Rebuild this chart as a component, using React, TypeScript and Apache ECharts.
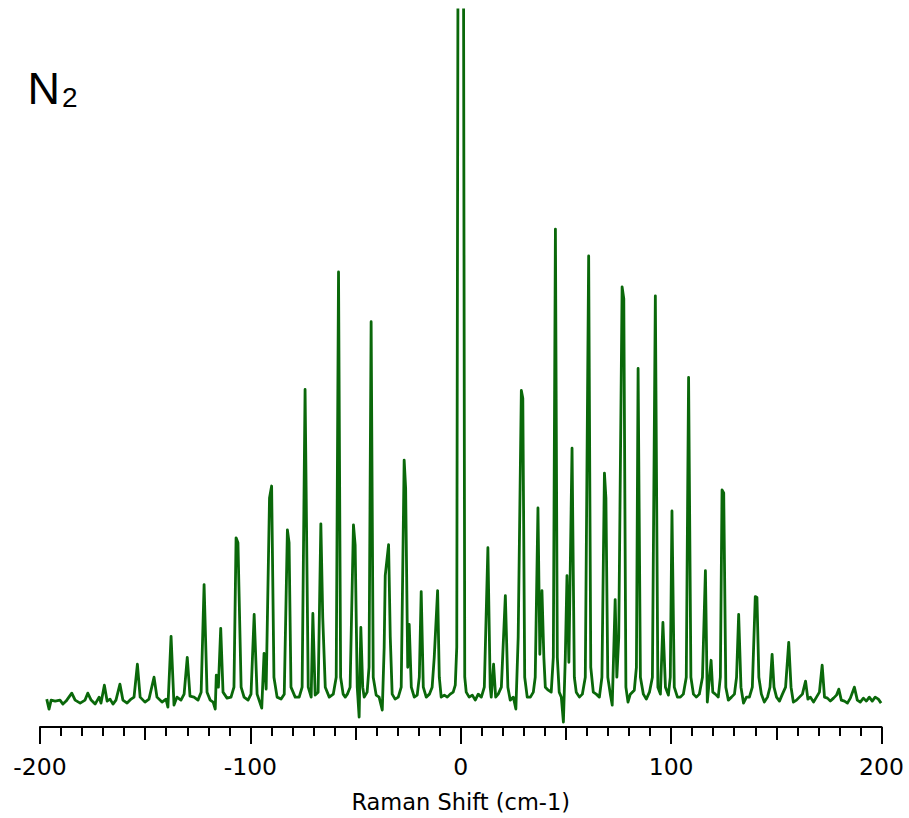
import React, { useEffect, useRef } from "react";
import * as echarts from "echarts";

// Raman shift (cm-1) vs intensity (arbitrary units)
const antiStokes: number[][] = [
  [-196.8, 28], [-195.7, 18], [-194.7, 27], [-192.8, 26], [-190.5, 27], [-189.1, 23], [-187.6, 26],
  [-184.9, 34], [-183.3, 27], [-180.9, 24], [-178.6, 27], [-177.3, 34], [-175.7, 27], [-173.8, 23],
  [-171.9, 30], [-171.0, 24], [-169.4, 42], [-168.1, 26], [-166.7, 28], [-165.3, 23], [-163.9, 27],
  [-162.0, 43], [-160.6, 27], [-158.6, 24], [-156.7, 28], [-155.3, 30], [-153.7, 63], [-152.4, 30],
  [-150.1, 25], [-148.2, 28], [-145.8, 50], [-144.4, 30], [-142.0, 25], [-140.1, 28], [-139.2, 20],
  [-137.7, 91], [-136.3, 22], [-134.9, 30], [-133.0, 27], [-131.5, 33], [-130.0, 70], [-128.7, 31],
  [-126.8, 30], [-124.9, 27], [-123.4, 35], [-122.0, 143], [-120.6, 35], [-119.1, 27], [-117.7, 25],
  [-116.7, 18], [-116.2, 52], [-115.2, 40], [-114.1, 99], [-113.0, 35], [-111.1, 29], [-109.2, 30],
  [-107.8, 40], [-106.8, 190], [-105.9, 185], [-104.4, 40], [-103.0, 30], [-101.1, 27], [-99.7, 33],
  [-98.2, 113], [-96.8, 33], [-94.6, 19], [-93.5, 74], [-92.5, 38], [-90.9, 230], [-89.9, 242],
  [-88.8, 50], [-87.3, 30], [-85.4, 28], [-83.9, 33], [-82.4, 198], [-81.6, 185], [-80.7, 40],
  [-78.7, 30], [-76.8, 30], [-75.4, 40], [-74.0, 339], [-72.5, 40], [-71.1, 30], [-70.3, 114],
  [-69.2, 32], [-67.8, 35], [-66.5, 204], [-65.6, 110], [-64.4, 40], [-62.5, 30], [-60.6, 33],
  [-59.2, 50], [-58.1, 457], [-57.1, 50], [-55.9, 33], [-54.9, 30], [-53.9, 33], [-52.6, 40],
  [-51.0, 203], [-50.2, 183], [-49.2, 40], [-48.3, 10], [-47.5, 100], [-46.6, 40], [-45.9, 30],
  [-44.5, 35], [-43.6, 60], [-42.6, 407], [-41.6, 50], [-40.2, 32], [-38.8, 30], [-37.3, 17],
  [-36.4, 80], [-35.9, 152], [-34.3, 183], [-33.5, 90], [-32.6, 33], [-31.2, 28], [-29.7, 30],
  [-28.3, 40], [-26.9, 268], [-26.2, 240], [-25.2, 60], [-24.5, 103], [-23.5, 40], [-22.1, 30],
  [-20.7, 32], [-19.7, 50], [-18.8, 136], [-17.8, 40], [-16.4, 30], [-14.9, 33], [-13.6, 40],
  [-12.6, 70], [-11.0, 137], [-10.2, 50], [-9.3, 30], [-7.8, 32], [-6.4, 30], [-5.0, 33],
  [-3.6, 35], [-2.6, 42],
];

const rayleigh: number[][] = [
  [-1.9, 80], [-1.2, 900], [0, 1400], [1.2, 900], [1.9, 50],
];

const stokes: number[][] = [
  [2.6, 35], [4.0, 30], [5.5, 32], [6.9, 27], [8.3, 33], [9.8, 30], [11.2, 40], [12.9, 180],
  [14.0, 40], [14.5, 30], [15.6, 63], [16.6, 30], [17.8, 33], [19.3, 40], [21.2, 132], [22.4, 40],
  [23.5, 27], [25.0, 30], [26.2, 18], [27.3, 90], [28.8, 338], [29.5, 330], [30.4, 50], [31.6, 30],
  [33.1, 30], [34.5, 35], [35.4, 50], [36.7, 220], [37.6, 73], [38.6, 137], [39.5, 70], [40.2, 40],
  [41.6, 37], [43.0, 35], [44.0, 70], [45.0, 500], [45.9, 70], [46.8, 35], [47.8, 30], [48.8, 5],
  [49.7, 70], [50.5, 152], [51.4, 65], [52.9, 280], [54.0, 50], [54.9, 35], [56.4, 30], [57.8, 33],
  [59.2, 50], [60.8, 473], [61.8, 60], [63.0, 35], [64.4, 33], [65.9, 30], [67.1, 50], [68.3, 255],
  [69.0, 230], [69.9, 50], [71.1, 33], [72.0, 22], [73.4, 128], [74.2, 50], [75.1, 90], [76.7, 442],
  [77.5, 430], [78.5, 40], [79.5, 25], [80.6, 33], [82.5, 37], [83.5, 60], [84.3, 360], [85.4, 50],
  [86.8, 33], [88.2, 28], [89.7, 35], [91.1, 50], [92.5, 433], [93.7, 40], [94.9, 33], [96.1, 105],
  [97.3, 40], [98.7, 32], [99.6, 50], [100.4, 217], [101.5, 40], [103.0, 30], [104.4, 30], [105.8, 33],
  [107.2, 50], [108.3, 351], [109.4, 50], [110.6, 33], [112.0, 30], [113.4, 33], [114.9, 50],
  [116.3, 157], [117.2, 25], [119.0, 67], [119.8, 35], [121.0, 33], [122.4, 30], [123.4, 50],
  [124.2, 238], [125.0, 235], [126.0, 40], [127.2, 27], [128.7, 30], [130.1, 33], [131.1, 50],
  [132.1, 113], [133.2, 40], [134.4, 24], [135.8, 30], [137.2, 30], [138.6, 40], [140.0, 131],
  [140.8, 130], [141.7, 50], [142.9, 33], [144.3, 25], [145.8, 30], [147.0, 40], [148.0, 73],
  [148.9, 40], [150.1, 30], [151.5, 26], [152.9, 33], [154.4, 40], [155.9, 85], [157.0, 40],
  [158.1, 25], [159.6, 27], [161.0, 30], [162.4, 33], [163.9, 46], [165.0, 28], [166.2, 30],
  [167.7, 25], [169.1, 30], [170.5, 35], [171.8, 62], [172.9, 30], [174.3, 29], [175.7, 26],
  [177.2, 29], [178.6, 32], [179.7, 38], [180.9, 27], [182.4, 26], [183.8, 24], [185.2, 29],
  [187.1, 40], [188.5, 27], [189.9, 25], [191.4, 29], [192.8, 26], [194.2, 30], [195.6, 26],
  [197.0, 30], [198.5, 28], [199.8, 24],
];

const xTickLabels = ["-200", "-100", "0", "100", "200"];
const xAxisTitle = "Raman Shift (cm-1)";
const moleculeLabel = "N";
const moleculeSubscript = "2";

export default function App() {
  const ref = useRef<HTMLDivElement>(null);

  useEffect(() => {
    if (!ref.current) return;
    const chart = echarts.init(ref.current, null, { renderer: "svg" });
    const data = [...antiStokes, ...rayleigh, ...stokes];
    const axisFont = "'DejaVu Sans', sans-serif";
    chart.setOption({
      animation: false,
      backgroundColor: "#ffffff",
      grid: { left: 40, right: 27.5, top: 10, bottom: 88 },
      xAxis: [
        {
          type: "value",
          position: "bottom",
          min: -200,
          max: 200,
          interval: 100,
          axisLine: { show: true, lineStyle: { color: "#000", width: 2 } },
          axisTick: { show: true, length: 17, lineStyle: { color: "#000", width: 2 } },
          minorTick: { show: true, splitNumber: 10, length: 9, lineStyle: { color: "#000", width: 2 } },
          splitLine: { show: false },
          minorSplitLine: { show: false },
          axisLabel: {
            color: "#000",
            fontSize: 23.5,
            fontFamily: axisFont,
            margin: 28,
            formatter: (v: number) => {
              const i = Math.round((v + 200) / 100);
              return xTickLabels[i] ?? String(v);
            },
          },
          name: xAxisTitle,
          nameLocation: "middle",
          nameGap: 63,
          nameTextStyle: { color: "#000", fontSize: 22.5, fontFamily: axisFont },
        },
        {
          type: "value",
          position: "bottom",
          min: -200,
          max: 200,
          interval: 50,
          axisLine: { show: false },
          axisTick: { show: true, length: 13, lineStyle: { color: "#000", width: 2 } },
          axisLabel: { show: false },
          splitLine: { show: false },
        },
      ],
      yAxis: { type: "value", min: 0, max: 720, show: false },
      series: [
        {
          type: "line",
          data,
          xAxisIndex: 0,
          symbol: "none",
          showSymbol: false,
          clip: true,
          lineStyle: { color: "#0a680a", width: 2.8, join: "round" },
        },
      ],
      graphic: [
        {
          type: "text",
          x: 27.5,
          y: 88,
          style: {
            text: moleculeLabel,
            fill: "#000",
            font: "45px 'Liberation Sans', Arial, sans-serif",
            verticalAlign: "middle",
          },
        },
        {
          type: "text",
          x: 62,
          y: 97.5,
          style: {
            text: moleculeSubscript,
            fill: "#000",
            font: "28px 'Liberation Sans', Arial, sans-serif",
            verticalAlign: "middle",
          },
        },
      ],
    });
    return () => chart.dispose();
  }, []);

  return (
    <div
      ref={ref}
      style={{ position: "fixed", left: 0, top: 0, width: 909, height: 818, background: "#fff" }}
    />
  );
}
